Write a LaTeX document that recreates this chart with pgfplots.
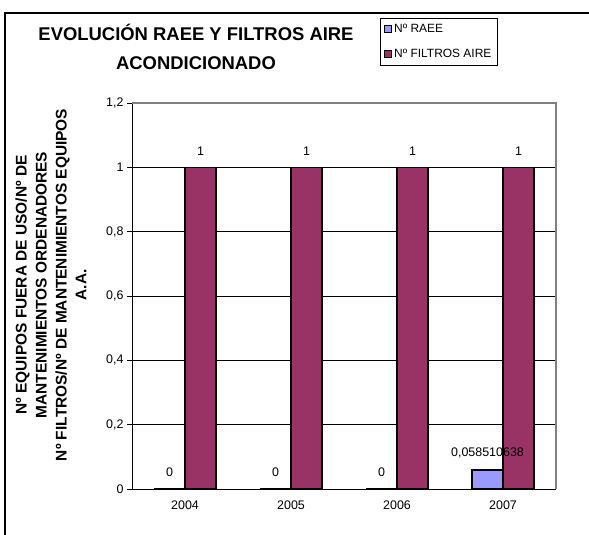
\documentclass[border=0pt]{standalone}
\usepackage{pgfplots}
\pgfplotsset{compat=1.18}
\usepackage{fontspec}
\setmainfont{Liberation Sans}
\definecolor{raee}{HTML}{9999FF}
\definecolor{filtros}{HTML}{993366}
\begin{document}
\begin{tikzpicture}[x=1bp,y=1bp]
\useasboundingbox (0,0) rectangle (589,535);
% outer chart frame
\draw[line width=1.2bp] (5,0) -- (5,522) -- (589,522);
% title
\node[align=center, font=\fontsize{18.5}{29}\selectfont\bfseries] at (196,488)
  {EVOLUCIÓN RAEE Y FILTROS AIRE\\ACONDICIONADO};
% y label
\node[rotate=90, align=center, font=\fontsize{15.5}{20}\selectfont\bfseries] at (51,250)
  {Nº EQUIPOS FUERA DE USO/Nº DE\\MANTENIMIENTOS ORDENADORES\\Nº FILTROS/Nº DE MANTENIMIENTOS EQUIPOS\\A.A.};
\begin{axis}[
    at={(132bp,46bp)}, anchor=south west,
    scale only axis,
    width=424bp, height=386bp,
    ybar=0pt, bar width=31bp,
    xmin=-0.5, xmax=3.5,
    ymin=0, ymax=1.2,
    ytick={0,0.2,...,1.2},
    xtick={0,1,2,3},
    xticklabels={2004,2005,2006,2007},
    x tick style={draw=none},
    extra x ticks={-0.5,0.5,1.5,2.5,3.5},
    extra x tick labels={},
    extra x tick style={tick align=outside, major tick length=5bp, tick style={black, line width=0.8bp}},
    tick pos=left,
    y tick style={black, line width=0.8bp},
    ytick align=outside, major tick length=5bp,
    ymajorgrids, grid style={black, line width=0.6bp},
    axis x line*=bottom, axis y line*=left,
    axis line style={black, line width=0.8bp, -},
    /pgf/number format/use comma,
    /pgf/number format/assume math mode=true,
    ticklabel style={font=\fontsize{12.5}{14}\selectfont},
    xticklabel style={yshift=-3bp},
    point meta=explicit symbolic,
    nodes near coords,
    nodes near coords style={font=\fontsize{12.5}{14}\selectfont, yshift=8bp},
    legend style={at={(0.585,1.220)}, anchor=north west, draw=black, line width=0.8bp,
        font=\fontsize{12}{13}\selectfont, row sep=11bp, inner sep=4bp},
    legend cell align=left,
    legend image code/.code={\draw[#1, draw=black, line width=0.8bp] (0bp,-3.5bp) rectangle (7bp,3.5bp);},
    after end axis/.code={
        \draw[gray, line width=1.2bp] (rel axis cs:0,1) -- (rel axis cs:1,1) -- (rel axis cs:1,0);
    },
]
\addplot[fill=raee, draw=black, line width=1.5bp] coordinates {
    (0,0) [0]
    (1,0) [0]
    (2,0) [0]
    (3,0.058510638) [{0,058510638}]
};
\addplot[fill=filtros, draw=black, line width=1.5bp] coordinates {
    (0,1) [1]
    (1,1) [1]
    (2,1) [1]
    (3,1) [1]
};
\legend{Nº RAEE, Nº FILTROS AIRE}
\end{axis}
\end{tikzpicture}
\end{document}
